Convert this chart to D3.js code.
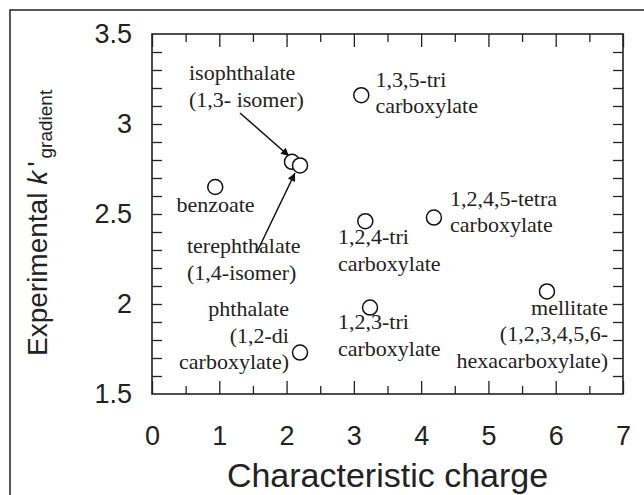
<!DOCTYPE html>
<html>
<head>
<meta charset="utf-8">
<script src="https://cdn.jsdelivr.net/npm/d3@7"></script>
<style>
  body { margin: 0; background: #fff; }
  svg { display: block; }
  .tick text { fill: #222; }
</style>
</head>
<body>
<svg id="chart" width="644" height="495"></svg>
<script>
// values
var anions = ["benzoate", "isophthalate", "terephthalate", "phthalate",
              "1,2,3-tri", "1,2,4-tri", "1,3,5-tri", "1,2,4,5-tetra", "mellitate"];
var charge = [0.94, 2.08, 2.20, 2.20, 3.24, 3.17, 3.11, 4.19, 5.87];
var kGradient = [2.65, 2.79, 2.77, 1.73, 1.98, 2.46, 3.16, 2.48, 2.07];

var xTickLabels = [0, 1, 2, 3, 4, 5, 6, 7];
var yTickLabels = [1.5, 2, 2.5, 3, 3.5];

// text labels next to the points (position in data units, first baseline)
var labels = [
  {lines: ["isophthalate", "(1,3- isomer)"], x: 0.55, y: 3.244, anchor: "start"},
  {lines: ["1,3,5-tri", "carboxylate"], x: 3.32, y: 3.206, anchor: "start"},
  {lines: ["benzoate"], x: 0.944, y: 2.512, anchor: "middle"},
  {lines: ["terephthalate", "(1,4-isomer)"], x: 0.52, y: 2.283, anchor: "start"},
  {lines: ["1,2,4-tri", "carboxylate"], x: 2.764, y: 2.333, anchor: "start"},
  {lines: ["1,2,4,5-tetra", "carboxylate"], x: 4.43, y: 2.545, anchor: "start"},
  {lines: ["phthalate", "(1,2-di", "carboxylate)"], x: 2.036, y: 1.933, anchor: "end"},
  {lines: ["1,2,3-tri", "carboxylate"], x: 2.764, y: 1.861, anchor: "start"},
  {lines: ["mellitate", "(1,2,3,4,5,6-", "hexacarboxylate)"], x: 6.777, y: 1.939, anchor: "end"}
];

var arrows = [
  {x1: 1.308, y1: 3.061, x2: 2.036, y2: 2.822},
  {x1: 1.560, y1: 2.289, x2: 2.125, y2: 2.728}
];

var points = anions.map((d, i) => ({name: d, x: charge[i], y: kGradient[i]}));

var svg = d3.select("#chart");
var margin = {top: 34, right: 21, bottom: 101, left: 152};
var width = +svg.attr("width") - margin.left - margin.right;
var height = +svg.attr("height") - margin.top - margin.bottom;

// outer frame, cut off at right and bottom
svg.append("rect")
  .attr("x", 10).attr("y", 10)
  .attr("width", 700).attr("height", 600)
  .attr("fill", "none").attr("stroke", "#222").attr("stroke-width", 1.5);

var g = svg.append("g").attr("transform", `translate(${margin.left}, ${margin.top})`);

var x = d3.scaleLinear().domain([0, 7]).range([0, width]);
var y = d3.scaleLinear().domain([1.5, 3.5]).range([height, 0]);

var xMajor = xTickLabels;
var xMinor = d3.range(0.5, 7, 1);
var yMinor = d3.range(16, 35).map(v => v / 10);

function tickAxis(axis, vals, size) {
  return axis.tickValues(vals).tickSize(-size).tickFormat("");
}

// inward ticks on all four sides
g.append("g").attr("transform", `translate(0, ${height})`).call(tickAxis(d3.axisBottom(x), xMajor, 13));
g.append("g").attr("transform", `translate(0, ${height})`).call(tickAxis(d3.axisBottom(x), xMinor, 8));
g.append("g").call(tickAxis(d3.axisTop(x), xMajor, 13));
g.append("g").call(tickAxis(d3.axisTop(x), xMinor, 8));
g.append("g").call(tickAxis(d3.axisLeft(y), yMinor, 10));
g.append("g").attr("transform", `translate(${width}, 0)`).call(tickAxis(d3.axisRight(y), yMinor, 10));
g.selectAll(".domain").remove();
g.selectAll(".tick line").attr("stroke", "#222").attr("stroke-width", 1.3);

// tick labels
var xl = g.append("g").attr("transform", `translate(0, ${height})`)
  .call(d3.axisBottom(x).tickValues(xTickLabels).tickSize(0).tickPadding(32).tickFormat(d => String(d)));
var yl = g.append("g")
  .call(d3.axisLeft(y).tickValues(yTickLabels).tickSize(0).tickPadding(20).tickFormat(d => String(d)));
[xl, yl].forEach(a => {
  a.select(".domain").remove();
  a.selectAll("text").attr("font-family", "'Liberation Sans', Arial, sans-serif").attr("font-size", 27);
});

// plot box
g.append("rect")
  .attr("width", width).attr("height", height)
  .attr("fill", "none").attr("stroke", "#222").attr("stroke-width", 1.6);

// axis titles
svg.append("text")
  .attr("x", margin.left + width / 2).attr("y", 487)
  .attr("text-anchor", "middle")
  .attr("font-family", "'Liberation Sans', Arial, sans-serif").attr("font-size", 34).attr("fill", "#222")
  .text("Characteristic charge");

var yt = svg.append("text")
  .attr("transform", "translate(47, 356) rotate(-90)")
  .attr("font-family", "'Liberation Sans', Arial, sans-serif").attr("font-size", 28).attr("fill", "#222");
yt.append("tspan").text("Experimental ");
yt.append("tspan").attr("font-style", "italic").text("k");
yt.append("tspan").attr("dx", 4).text("'");
yt.append("tspan").attr("font-size", 19).attr("dx", 3).attr("dy", 5).text("gradient");

// arrows
svg.append("defs").append("marker")
  .attr("id", "head").attr("viewBox", "0 0 10 10")
  .attr("refX", 10).attr("refY", 5)
  .attr("markerWidth", 13).attr("markerHeight", 8)
  .attr("markerUnits", "userSpaceOnUse")
  .attr("orient", "auto")
  .append("path").attr("d", "M0,0 L10,5 L0,10 Z").attr("fill", "#111");

g.selectAll(".arrow").data(arrows).enter().append("line")
  .attr("class", "arrow")
  .attr("x1", d => x(d.x1)).attr("y1", d => y(d.y1))
  .attr("x2", d => x(d.x2)).attr("y2", d => y(d.y2))
  .attr("stroke", "#111").attr("stroke-width", 1.5)
  .attr("marker-end", "url(#head)");

// points
g.selectAll(".pt").data(points).enter().append("circle")
  .attr("class", "pt")
  .attr("cx", d => x(d.x)).attr("cy", d => y(d.y))
  .attr("r", 7.5)
  .attr("fill", "#fff").attr("stroke", "#111").attr("stroke-width", 1.5);

// labels
var lab = g.selectAll(".lab").data(labels).enter().append("text")
  .attr("class", "lab")
  .attr("x", d => x(d.x)).attr("y", d => y(d.y))
  .attr("text-anchor", d => d.anchor)
  .attr("font-family", "'Liberation Serif', 'Times New Roman', serif").attr("font-size", 22).attr("fill", "#222");
lab.selectAll("tspan").data(d => d.lines.map(l => ({t: l, x: d.x}))).enter().append("tspan")
  .attr("x", d => x(d.x))
  .attr("dy", (d, i) => i ? 26.5 : 0)
  .text(d => d.t);
</script>
</body>
</html>
